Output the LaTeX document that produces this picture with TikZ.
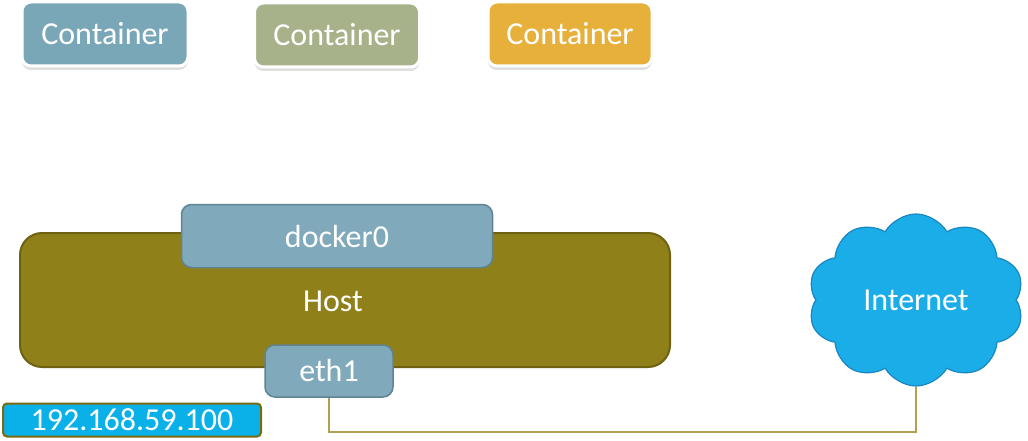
\documentclass[tikz,border=0pt]{standalone}
\usepackage{fontspec}
\setmainfont{Carlito}
\usetikzlibrary{shapes.symbols,shadows}
\definecolor{cblue}{HTML}{7AA7B8}
\definecolor{cgreen}{HTML}{A8B28A}
\definecolor{cgold}{HTML}{E6B03A}
\definecolor{hostfill}{HTML}{8F8019}
\definecolor{hostdraw}{HTML}{6E6212}
\definecolor{ifill}{HTML}{80AABB}
\definecolor{idraw}{HTML}{5E8494}
\definecolor{cloudfill}{HTML}{1AADE8}
\definecolor{clouddraw}{HTML}{1A86C0}
\definecolor{ipfill}{HTML}{0AB0E8}
\definecolor{ipdraw}{HTML}{7A6A10}
\definecolor{wire}{HTML}{B0A050}
\tikzset{
  txt/.style={text=white,font=\fontsize{32}{38}\selectfont,inner sep=0pt},
  contbox/.style={txt,draw=white,line width=3pt,rounded corners=9pt,
    drop shadow={shadow xshift=0pt,shadow yshift=-4pt,opacity=0.25,fill=gray}},
  ifacebox/.style={txt,fill=ifill,draw=idraw,line width=1.5pt,rounded corners=10pt},
}
\begin{document}
\begin{tikzpicture}[x=1pt,y=-1pt]
\useasboundingbox (0,0) rectangle (1028,441);
% containers
\node[contbox,fill=cblue,minimum width=166pt,minimum height=64pt] (c1) at (105,34) {Container};
\node[contbox,fill=cgreen,minimum width=165pt,minimum height=64pt] (c2) at (337,35) {Container};
\node[contbox,fill=cgold,minimum width=164pt,minimum height=64pt] (c3) at (570,34) {Container};
% host
\node[txt,fill=hostfill,draw=hostdraw,line width=2pt,rounded corners=22pt,
  minimum width=650pt,minimum height=134pt] (host) at (345,300) {};
\node[txt] (hostlbl) at (333,301) {Host};
\node[ifacebox,minimum width=311pt,minimum height=63pt] (docker) at (337,236) {docker0};
\node[ifacebox,minimum width=128pt,minimum height=52pt] (eth) at (329,371) {eth1};
% ip label
\node[txt,fill=ipfill,draw=ipdraw,line width=2pt,rounded corners=4pt,
  minimum width=258pt,minimum height=33pt] (ip) at (132,420) {192.168.59.100};
% cloud
\node[txt,cloud,cloud puffs=10,cloud puff arc=120,aspect=1.25,fill=cloudfill,draw=clouddraw,line width=1.2pt,
  minimum width=216pt,minimum height=172pt] (cloud) at (916,300) {Internet};
% wire
\coordinate (bend) at (916,432);
\draw[wire,line width=1.3pt] (eth.south) |- (bend) -- (cloud);
\end{tikzpicture}
\end{document}
